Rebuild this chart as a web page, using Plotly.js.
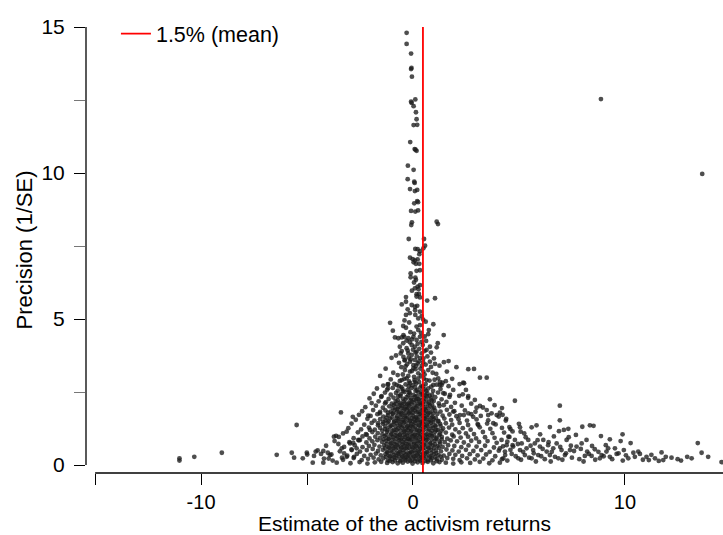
<!DOCTYPE html>
<html><head><meta charset="utf-8">
<script src="https://cdn.plot.ly/plotly-3.0.1.min.js"></script>
<style>html,body{margin:0;padding:0;background:#fff}#chart{width:723px;height:535px}</style>
</head><body><div id="chart"></div>
<script>
// ---------- data ----------
const meanEstimate = 0.47;
const meanLabel = '1.5% (mean)';
const xTitle = 'Estimate of the activism returns';
const yTitle = 'Precision (1/SE)';
const xTickVals = [-10, 0, 10];
const xTickText = ['-10', '0', '10'];
const yTickVals = [0, 5, 10, 15];
const yTickText = ['0', '5', '10', '15'];
const xRange = [-15.43, 14.63];
const yRange = [-0.274, 15];

// isolated high-precision outliers
const outlierPts = [[8.87,12.53],[13.65,9.97]];

// narrow spike of high precision estimates
const spikePts = [[-0.30,14.80],[-0.30,14.42],[-0.09,14.09],[-0.09,13.56],[-0.07,13.60],[-0.05,13.30],[0.11,12.52],[-0.09,12.44],[-0.06,12.40],[0.03,12.29],[0.14,12.08],[0.17,11.84],[0.03,11.64],[0.20,11.65],[-0.13,11.06],[0.08,10.82],[0.17,10.76],[0.12,10.80],[-0.24,10.25],[0.03,10.11],[-0.25,9.79],[0.06,9.70],[0.08,9.66],[-0.14,9.45],[0.09,9.38],[0.20,9.42],[0.20,9.04],[0.06,8.96],[0.24,9.00],[-0.09,8.70],[0.11,8.68],[0.24,8.72],[-0.05,8.31],[-0.08,8.22],[1.12,8.33],[1.18,8.25],[-0.20,7.74],[0.52,7.74],[0.57,7.51],[0.49,7.42],[0.11,7.40],[0.22,7.39],[0.33,7.32],[0.30,7.22],[-0.14,7.10],[-0.01,7.05],[0.09,7.01],[0.22,7.04],[0.03,6.94],[0.14,6.89],[0.30,6.89],[0.17,6.65],[0.33,6.67],[-0.11,6.56],[-0.11,6.43],[0.11,6.42],[0.14,6.34],[0.33,6.16],[0.22,6.11],[0.09,6.05],[-0.05,5.97],[0.17,5.85],[-0.33,5.75],[1.04,5.71],[0.26,6.02],[0.05,6.25]];

// upper funnel, precision 2.7 - 5.9
const upperPts = [[0.28,5.86],[0.17,5.77],[0.33,5.74],[0.67,5.63],[-0.53,5.50],[-0.33,5.59],[-0.06,5.48],[0.09,5.42],[0.20,5.45],[-0.25,5.33],[0.33,5.25],[-0.33,5.14],[0.11,5.14],[0.41,5.10],[0.25,5.02],[-1.08,4.87],[-0.46,4.76],[-0.33,4.70],[0.60,4.91],[0.96,4.82],[0.17,4.74],[0.33,4.79],[0.25,4.62],[0.72,4.48],[-0.85,4.37],[-0.69,4.34],[-0.53,4.37],[-0.41,4.39],[-0.22,4.34],[-0.30,4.26],[0.02,4.39],[0.17,4.28],[0.33,4.39],[-0.46,4.17],[-0.06,4.11],[0.09,4.05],[0.46,4.11],[1.17,4.17],[1.12,4.03],[0.80,4.05],[0.64,3.94],[-0.53,3.90],[-0.58,3.82],[-0.22,3.82],[-0.06,3.77],[0.17,3.88],[0.41,3.82],[-1.01,3.67],[-0.38,3.60],[-0.14,3.54],[0.09,3.60],[0.49,3.65],[0.99,3.65],[1.46,3.52],[1.68,3.56],[0.80,3.54],[1.04,3.46],[-1.29,3.30],[-0.93,3.16],[-0.38,3.25],[-0.14,3.20],[0.02,3.31],[0.25,3.14],[0.49,3.20],[0.72,3.25],[0.93,3.16],[2.61,3.28],[2.88,3.29],[3.16,2.99],[3.48,2.99],[2.41,2.80],[1.19,2.97],[1.27,2.85],[1.35,2.74],[-1.19,2.76],[-0.77,2.74],[-0.53,2.91],[-0.30,2.97],[-0.14,2.80],[0.09,2.85],[0.25,2.97],[0.64,2.91],[0.96,2.74],
[-0.12,4.55],[0.05,4.50],[0.38,4.52],[-0.45,4.45],[0.55,4.40],[-0.15,4.20],[0.40,4.22],[0.62,4.25],[-0.62,4.05],[-0.30,4.00],[0.00,3.95],[0.30,3.98],[0.55,3.90],[0.85,3.85],[-0.80,3.75],[-0.45,3.70],[-0.20,3.68],[0.18,3.72],[0.35,3.66],[0.68,3.72],[-0.66,3.50],[-0.28,3.45],[0.02,3.42],[0.22,3.48],[0.42,3.40],[0.60,3.44],[1.25,3.40],[-0.55,3.35],[-0.05,3.22],[0.12,3.28],[0.35,3.30],[0.85,3.36],[-0.72,3.08],[-0.48,3.10],[-0.22,3.05],[0.05,3.02],[0.38,3.06],[0.55,3.10],[1.10,3.12],[1.60,3.20],[-1.55,3.05],[2.05,3.35],[0.75,4.62],[-0.95,4.60],[1.45,4.45],[-0.40,4.95],[0.48,4.98],[-0.15,5.20],[0.10,5.30],[-0.18,4.88],
[-0.25,3.92],[0.12,3.85],[-0.10,3.62],[0.28,3.55],[-0.35,3.38],[0.15,3.40],[-0.05,4.30],[0.22,4.15],[-0.40,3.58],[0.48,3.52]];

// main body, read row by row (estimates per row, precisions per row)
const bodyX = [
[-1.05,-0.62,-0.41,-0.18,0.07,0.29,0.51,0.78,1.02,1.55,1.85],
[-1.40,-0.88,-0.66,-0.35,-0.02,0.15,0.40,0.60,0.86,1.12,1.68,2.20],
[-1.70,-1.22,-0.95,-0.72,-0.50,-0.26,-0.08,0.20,0.35,0.55,0.72,0.95,1.30,1.90],
[-1.85,-1.32,-1.05,-0.80,-0.58,-0.40,-0.15,0.02,0.25,0.45,0.68,0.90,1.18,1.50,2.35],
[-2.05,-1.50,-1.15,-0.92,-0.70,-0.48,-0.30,-0.10,0.10,0.28,0.50,0.66,0.85,1.05,1.35,1.72,2.60],
[-1.95,-1.62,-1.28,-1.00,-0.82,-0.62,-0.44,-0.22,-0.05,0.14,0.33,0.52,0.75,0.98,1.22,1.58,1.98,2.75],
[-2.25,-1.75,-1.42,-1.12,-0.90,-0.70,-0.52,-0.35,-0.18,0.00,0.18,0.38,0.58,0.80,1.00,1.25,1.45,1.80,2.30,3.30],
[-2.40,-1.88,-1.55,-1.30,-1.05,-0.85,-0.65,-0.45,-0.28,-0.12,0.08,0.25,0.45,0.62,0.82,1.05,1.30,1.60,1.95,2.45,2.95],
[-2.55,-2.00,-1.68,-1.40,-1.18,-0.95,-0.75,-0.55,-0.38,-0.20,-0.02,0.15,0.32,0.52,0.70,0.92,1.15,1.40,1.72,2.05,2.40,2.75,3.20,4.05],
[-2.70,-2.15,-1.82,-1.55,-1.30,-1.08,-0.88,-0.68,-0.48,-0.30,-0.14,0.05,0.22,0.40,0.58,0.78,0.98,1.20,1.48,1.80,2.15,2.55,3.00,3.55,4.40],
[-2.90,-2.30,-1.95,-1.65,-1.42,-1.20,-0.98,-0.78,-0.60,-0.42,-0.25,-0.08,0.10,0.28,0.46,0.65,0.85,1.06,1.28,1.55,1.85,2.20,2.60,3.05,3.50,3.90],
[-3.05,-2.45,-2.08,-1.80,-1.55,-1.32,-1.10,-0.90,-0.70,-0.52,-0.35,-0.18,0.00,0.18,0.36,0.55,0.75,0.95,1.18,1.42,1.70,2.00,2.35,2.72,3.15,3.65,4.20,4.60],
[-3.30,-2.60,-2.22,-1.92,-1.66,-1.44,-1.22,-1.02,-0.82,-0.62,-0.44,-0.27,-0.10,0.08,0.26,0.44,0.64,0.84,1.05,1.28,1.55,1.85,2.18,2.50,2.88,3.30,3.75,4.30],
[-3.50,-2.80,-2.38,-2.05,-1.78,-1.55,-1.34,-1.14,-0.94,-0.74,-0.55,-0.37,-0.20,-0.03,0.14,0.32,0.50,0.70,0.90,1.12,1.36,1.62,1.92,2.25,2.60,2.98,3.40,3.85,4.55],
[-3.70,-3.00,-2.55,-2.20,-1.92,-1.68,-1.46,-1.26,-1.06,-0.86,-0.66,-0.48,-0.30,-0.12,0.06,0.24,0.42,0.62,0.82,1.02,1.25,1.50,1.78,2.08,2.40,2.75,3.12,3.52,3.95,4.45],
[-4.10,-3.25,-2.75,-2.38,-2.08,-1.82,-1.58,-1.36,-1.15,-0.95,-0.76,-0.57,-0.39,-0.21,-0.04,0.14,0.32,0.52,0.72,0.93,1.15,1.40,1.66,1.95,2.28,2.62,3.00,3.40,3.82,4.25,4.70],
[-4.50,-3.45,-2.90,-2.50,-2.18,-1.90,-1.65,-1.42,-1.22,-1.02,-0.82,-0.63,-0.45,-0.27,-0.09,0.09,0.27,0.46,0.66,0.86,1.08,1.32,1.58,1.86,2.16,2.50,2.85,3.22,3.62,4.05],
[-3.85,-3.10,-2.65,-2.30,-2.00,-1.75,-1.52,-1.30,-1.10,-0.90,-0.70,-0.52,-0.34,-0.16,0.02,0.20,0.38,0.58,0.78,0.98,1.20,1.45,1.72,2.00,2.32,2.68,3.05,3.45,3.88,4.35],
[-4.20,-3.30,-2.80,-2.42,-2.12,-1.86,-1.62,-1.40,-1.18,-0.98,-0.78,-0.58,-0.40,-0.22,-0.05,0.13,0.31,0.50,0.70,0.90,1.12,1.36,1.62,1.90,2.20,2.55,2.92,3.32,3.75,4.20],
[-3.60,-2.95,-2.52,-2.15,-1.80,-1.50,-1.22,-0.96,-0.72,-0.48,-0.25,-0.02,0.22,0.45,0.70,0.96,1.25,1.55,1.90,2.28,2.70,3.15,3.60,4.10]
];
const bodyY = [
[2.93,2.88,2.95,2.86,2.91,2.84,2.96,2.89,2.92,2.87,2.95],
[2.72,2.78,2.70,2.76,2.73,2.79,2.71,2.77,2.68,2.75,2.70,2.77],
[2.62,2.58,2.64,2.55,2.61,2.57,2.63,2.56,2.65,2.59,2.62,2.54,2.60,2.57],
[2.44,2.48,2.41,2.47,2.42,2.50,2.45,2.40,2.49,2.43,2.46,2.41,2.48,2.44,2.42],
[2.28,2.33,2.26,2.31,2.35,2.27,2.32,2.29,2.34,2.26,2.30,2.36,2.28,2.32,2.25,2.33,2.30],
[2.12,2.18,2.15,2.10,2.19,2.13,2.17,2.11,2.16,2.20,2.12,2.17,2.14,2.19,2.11,2.16,2.13,2.10],
[1.98,2.03,1.96,2.01,2.05,1.97,2.02,1.99,2.04,1.95,2.01,2.06,1.98,2.03,1.96,2.02,2.05,1.99,2.03,1.97],
[1.84,1.88,1.82,1.87,1.83,1.89,1.81,1.86,1.90,1.83,1.87,1.82,1.88,1.85,1.80,1.86,1.83,1.89,1.84,1.87,1.82],
[1.72,1.68,1.74,1.66,1.71,1.75,1.67,1.73,1.69,1.76,1.70,1.65,1.74,1.68,1.72,1.66,1.75,1.69,1.73,1.67,1.71,1.74,1.68,1.66],
[1.55,1.58,1.52,1.57,1.53,1.59,1.51,1.56,1.54,1.60,1.52,1.57,1.55,1.50,1.58,1.53,1.56,1.51,1.59,1.54,1.57,1.52,1.56,1.53,1.58],
[1.42,1.38,1.44,1.36,1.41,1.45,1.37,1.43,1.39,1.46,1.35,1.40,1.44,1.37,1.42,1.38,1.45,1.36,1.41,1.43,1.38,1.44,1.37,1.40,1.42,1.39],
[1.26,1.22,1.28,1.21,1.27,1.23,1.29,1.20,1.25,1.28,1.22,1.26,1.30,1.21,1.24,1.29,1.23,1.27,1.20,1.25,1.28,1.22,1.26,1.21,1.29,1.24,1.27,1.23],
[1.08,1.12,1.06,1.13,1.09,1.05,1.14,1.07,1.11,1.04,1.12,1.08,1.15,1.06,1.10,1.13,1.05,1.09,1.14,1.07,1.11,1.04,1.12,1.08,1.06,1.13,1.09,1.11],
[0.96,0.92,0.98,0.91,0.97,0.93,0.99,0.90,0.95,0.98,0.92,0.96,0.90,0.99,0.94,0.97,0.91,0.95,0.99,0.93,0.96,0.90,0.98,0.94,0.97,0.91,0.95,0.93,0.96],
[0.82,0.78,0.84,0.77,0.81,0.85,0.79,0.83,0.76,0.80,0.84,0.78,0.82,0.86,0.77,0.81,0.79,0.85,0.76,0.83,0.80,0.78,0.84,0.81,0.77,0.83,0.79,0.82,0.76,0.80],
[0.66,0.62,0.68,0.61,0.65,0.69,0.63,0.67,0.60,0.64,0.68,0.62,0.66,0.70,0.61,0.65,0.63,0.69,0.60,0.67,0.64,0.62,0.68,0.65,0.61,0.67,0.63,0.66,0.60,0.64,0.68],
[0.50,0.47,0.53,0.46,0.51,0.55,0.48,0.52,0.45,0.49,0.54,0.47,0.51,0.56,0.46,0.50,0.48,0.54,0.45,0.52,0.49,0.47,0.53,0.50,0.46,0.52,0.48,0.51,0.45,0.49],
[0.36,0.32,0.38,0.31,0.35,0.39,0.33,0.37,0.30,0.34,0.38,0.32,0.36,0.40,0.31,0.35,0.33,0.39,0.30,0.37,0.34,0.32,0.38,0.35,0.31,0.37,0.33,0.36,0.30,0.34],
[0.22,0.18,0.24,0.17,0.21,0.25,0.19,0.23,0.16,0.20,0.24,0.18,0.22,0.26,0.17,0.21,0.19,0.25,0.16,0.23,0.20,0.18,0.24,0.21,0.17,0.23,0.19,0.22,0.16,0.20],
[0.08,0.06,0.10,0.05,0.09,0.11,0.07,0.10,0.06,0.08,0.12,0.05,0.09,0.07,0.11,0.06,0.10,0.08,0.05,0.09,0.07,0.11,0.06,0.08]
];

// dense core around zero, second layer
const coreX = [
[-0.55,-0.20,0.10,0.48],
[-0.48,-0.18,0.12,0.40,0.62],
[-0.60,-0.22,0.18,0.38,0.58,0.78],
[-0.72,-0.35,-0.12,0.05,0.24,0.44,0.64,0.88],
[-0.80,-0.60,-0.42,-0.26,-0.08,0.10,0.28,0.48,0.70,0.90],
[-0.95,-0.75,-0.55,-0.38,-0.20,-0.02,0.16,0.35,0.54,0.72,0.92],
[-1.18,-0.96,-0.76,-0.56,-0.36,-0.18,0.00,0.18,0.36,0.55,0.74,0.95],
[-1.25,-1.00,-0.78,-0.58,-0.40,-0.22,-0.05,0.14,0.32,0.50,0.68,0.88,1.08],
[-1.40,-1.15,-0.90,-0.70,-0.52,-0.34,-0.16,0.02,0.20,0.38,0.56,0.75,0.96,1.18],
[-1.30,-1.05,-0.82,-0.62,-0.44,-0.26,-0.08,0.10,0.28,0.46,0.66,0.86,1.06,1.30],
[-1.45,-1.20,-0.98,-0.78,-0.60,-0.42,-0.24,-0.06,0.12,0.30,0.50,0.70,0.90,1.10,1.35],
[-1.25,-1.04,-0.84,-0.64,-0.46,-0.28,-0.11,0.06,0.24,0.42,0.60,0.80,1.00,1.24],
[-1.38,-1.16,-0.96,-0.76,-0.58,-0.40,-0.22,-0.05,0.12,0.30,0.48,0.68,0.88,1.10,1.35],
[-1.25,-1.05,-0.86,-0.66,-0.48,-0.30,-0.12,0.05,0.23,0.42,0.62,0.82,1.04,1.28],
[-1.32,-1.12,-0.92,-0.72,-0.54,-0.36,-0.18,0.00,0.18,0.36,0.56,0.76,0.98,1.22],
[-1.20,-1.00,-0.80,-0.61,-0.43,-0.25,-0.07,0.11,0.29,0.48,0.68,0.88,1.10],
[-1.28,-1.08,-0.88,-0.68,-0.49,-0.31,-0.13,0.05,0.24,0.42,0.62,0.83,1.05,1.30],
[-1.10,-0.85,-0.60,-0.36,-0.12,0.10,0.34,0.58,0.84,1.12]
];
const coreY = [
[2.67,2.70,2.66,2.69],
[2.53,2.50,2.54,2.51,2.53],
[2.37,2.39,2.36,2.40,2.38,2.37],
[2.22,2.24,2.21,2.23,2.25,2.22,2.24,2.21],
[2.09,2.07,2.10,2.08,2.09,2.07,2.10,2.08,2.09,2.07],
[1.94,1.92,1.95,1.93,1.94,1.92,1.95,1.93,1.92,1.94,1.93],
[1.79,1.77,1.80,1.78,1.77,1.79,1.78,1.80,1.77,1.79,1.78,1.77],
[1.62,1.63,1.61,1.64,1.62,1.63,1.61,1.62,1.64,1.61,1.63,1.62,1.61],
[1.48,1.49,1.47,1.50,1.48,1.47,1.49,1.48,1.50,1.47,1.49,1.48,1.47,1.49],
[1.33,1.34,1.32,1.35,1.33,1.32,1.34,1.33,1.35,1.32,1.34,1.33,1.32,1.34],
[1.18,1.19,1.17,1.20,1.18,1.17,1.19,1.18,1.20,1.17,1.19,1.18,1.17,1.19,1.18],
[1.02,1.03,1.01,1.04,1.02,1.01,1.03,1.02,1.04,1.01,1.03,1.02,1.01,1.03],
[0.88,0.89,0.87,0.90,0.88,0.87,0.89,0.88,0.90,0.87,0.89,0.88,0.87,0.89,0.88],
[0.72,0.73,0.71,0.74,0.72,0.71,0.73,0.72,0.74,0.71,0.73,0.72,0.71,0.73],
[0.58,0.59,0.57,0.60,0.58,0.57,0.59,0.58,0.60,0.57,0.59,0.58,0.57,0.59],
[0.42,0.43,0.41,0.44,0.42,0.41,0.43,0.42,0.44,0.41,0.43,0.42,0.41],
[0.28,0.29,0.27,0.30,0.28,0.27,0.29,0.28,0.30,0.27,0.29,0.28,0.27,0.29],
[0.14,0.15,0.13,0.16,0.14,0.13,0.15,0.14,0.16,0.13]
];

// left tail and left flank
const leftPts = [[-11.02,0.23],[-11.02,0.15],[-10.32,0.28],[-9.02,0.42],[-6.43,0.35],[-5.72,0.42],[-5.61,0.25],[-5.49,1.37],[-5.20,0.23],[-5.01,0.42],[-4.99,0.36],[-4.73,0.08],[-4.67,0.31],[-4.59,0.46],[-4.34,0.38],[-4.23,0.08],[-4.23,0.48],[-4.02,0.42],[-3.92,0.34],[-3.79,0.15],[-3.73,0.97],[-3.63,1.00],[-3.40,1.80],[-2.84,1.65],[-3.13,1.14],[-3.52,0.72],[-3.36,0.57],[-3.25,0.40],[-3.13,0.28],[-2.97,0.74],[-2.82,0.76],[-2.89,0.51],[-2.66,0.57],[-2.78,0.28],[-2.58,0.86],[-3.98,0.22],[-3.35,0.25],
[-2.11,1.69],[-1.17,2.77],[-1.17,2.63],[-1.48,2.36],[-1.32,2.11],[-1.56,1.77],[-1.64,1.43],[-2.03,1.20],[-2.18,1.03],[-2.50,0.86]];

// right flank and right tail
const rightPts = [[2.37,2.82],[2.50,2.57],[2.18,2.37],[2.61,2.36],[2.92,2.23],[3.63,2.25],[3.16,2.02],[3.00,1.96],[3.48,1.88],[3.71,1.77],[3.95,1.71],[3.55,1.71],[2.84,1.65],[2.61,1.77],[2.22,1.71],[1.90,1.83],[1.75,2.40],[1.43,2.46],[1.27,2.74],[1.40,2.82],[3.08,1.37],[3.79,1.43],
[4.81,2.20],[6.93,2.03],[6.93,1.53],[4.10,1.79],[4.23,1.72],[5.00,1.41],[5.05,1.29],[5.08,1.14],[5.60,1.29],[5.83,1.36],[6.46,1.30],[6.89,1.16],[7.12,1.20],[7.33,1.24],[7.99,1.31],[8.35,1.36],[8.52,1.34],[7.69,1.03],[8.87,0.99],[9.29,0.88],[9.89,1.05],[10.27,0.75],[9.80,0.82],[13.44,0.75],[13.62,0.42],[13.93,0.28],[14.56,0.10],[13.15,0.23],[12.94,0.28],[12.49,0.20],[11.93,0.28],[11.81,0.17],[11.73,0.43],[11.42,0.23],[11.02,0.28],[11.13,0.17],[10.63,0.46],[10.71,0.38],[10.47,0.28],[10.16,0.23],[9.95,0.51],[9.53,0.57],[9.61,0.38],[9.21,0.57],[9.13,0.46],[9.29,0.28],[8.90,0.34],[8.82,0.23],[8.58,0.54],[8.43,0.31],[8.22,0.46],[8.11,0.31],[8.19,0.86],[7.96,0.74],[7.72,0.63],[7.45,0.66],[7.41,0.51],[7.25,0.86],[7.17,0.34],[7.01,0.51],[6.86,0.23],[6.78,0.74],[6.62,0.57],[6.46,0.34],[6.38,0.68],[6.31,0.46],[6.15,0.86],[5.99,0.63],[5.91,0.34],[5.75,0.74],[5.67,0.51],[5.60,0.23],[5.44,0.86],[5.36,0.57],[5.28,0.34],[5.13,0.74],[5.05,0.51],[4.97,0.23],[4.81,0.86],[4.73,0.63],[4.66,0.38],[4.50,0.97],[4.42,0.68],[4.34,0.46],[4.26,0.23],[4.18,0.86],[4.10,0.57],
[4.45,0.15],[4.60,0.52],[4.85,0.30],[4.95,0.72],[5.10,0.18],[5.20,0.45],[5.32,0.95],[5.48,0.25],[5.55,0.66],[5.70,0.40],[5.80,0.12],[5.88,0.85],[6.05,0.30],[6.12,0.55],[6.22,0.20],[6.40,0.78],[6.50,0.12],[6.55,0.45],[6.70,0.28],[6.95,0.62],[7.05,0.18],[7.22,0.40],[7.35,0.95],[7.50,0.25],[7.60,0.48],[7.85,0.20],[7.92,0.55],[8.05,0.12],[8.30,0.38],[8.45,0.65],[8.60,0.18],[8.75,0.45],[9.00,0.30],[9.10,0.68],[9.40,0.20],[9.70,0.40],[9.90,0.15],[10.05,0.33],[10.40,0.42],[10.85,0.18],[11.25,0.35],[11.60,0.14],[12.20,0.25],[12.65,0.15],[4.70,1.15],[4.55,1.30],[5.25,1.08],[6.00,1.05],[6.65,0.98],[4.38,1.52],[3.85,2.05],[4.20,1.95]];

// ---------- assemble ----------
function zipRows(xs, ys) {
  const out = [];
  for (let r = 0; r < Math.min(xs.length, ys.length); r++) {
    const n = Math.min(xs[r].length, ys[r].length);
    for (let i = 0; i < n; i++) out.push([xs[r][i], ys[r][i]]);
  }
  return out;
}
const allPts = [].concat(outlierPts, spikePts, upperPts, zipRows(bodyX, bodyY), zipRows(coreX, coreY), leftPts, rightPts);
const px = allPts.map(p => p[0]);
const py = allPts.map(p => p[1]);

const FONT = 'Liberation Sans, Arial, Helvetica, sans-serif';

const traces = [
  {
    type: 'scatter', mode: 'markers', x: px, y: py, showlegend: false, hoverinfo: 'none',
    marker: { size: 4.8, color: 'rgba(28,28,28,0.78)', line: { width: 0 } },
    cliponaxis: false
  },
  {
    type: 'scatter', mode: 'lines', name: meanLabel,
    x: [meanEstimate, meanEstimate], y: [yRange[0], yRange[1]],
    line: { color: '#ff0000', width: 1.8 }, hoverinfo: 'none'
  }
];

const layout = {
  width: 723, height: 535,
  margin: { l: 86, r: 0, t: 27, b: 62, pad: 0 },
  paper_bgcolor: '#fff', plot_bgcolor: '#fff',
  font: { family: FONT, size: 21, color: '#000' },
  showlegend: true,
  legend: {
    x: 0.047, y: 1.031, xanchor: 'left', yanchor: 'top',
    bgcolor: 'rgba(0,0,0,0)', borderwidth: 0, itemwidth: 30,
    font: { family: FONT, size: 21.5, color: '#000' }
  },
  xaxis: {
    range: xRange, showgrid: false, zeroline: false, showline: false,
    tickvals: xTickVals, ticktext: xTickText,
    ticks: 'outside', ticklen: 11, tickwidth: 1, tickcolor: '#000',
    minor: { dtick: 5, tick0: 0, ticks: 'outside', ticklen: 11, tickwidth: 1, tickcolor: '#000' },
    tickfont: { family: FONT, size: 20, color: '#000' },
    ticklabelstandoff: 0,
    title: { text: xTitle, font: { family: FONT, size: 21, color: '#000' }, standoff: 4 }
  },
  yaxis: {
    range: yRange, showgrid: false, zeroline: false, showline: false,
    tickvals: yTickVals, ticktext: yTickText,
    ticks: 'outside', ticklen: 11, tickwidth: 1, tickcolor: '#000',
    minor: { dtick: 2.5, tick0: 0, ticks: 'outside', ticklen: 11, tickwidth: 1, tickcolor: '#777' },
    tickfont: { family: FONT, size: 21, color: '#000' },
    ticklabelstandoff: 5,
    title: { text: yTitle, font: { family: FONT, size: 22, color: '#000' }, standoff: 2 }
  },
  shapes: [
    { type: 'line', xref: 'paper', yref: 'y', x0: 0, x1: 0, y0: 0, y1: 15, line: { color: '#000', width: 1.3 } },
    { type: 'line', xref: 'x', yref: 'paper', x0: -15, x1: xRange[1], y0: 0, y1: 0, line: { color: '#000', width: 1.3 } }
  ]
};

Plotly.newPlot('chart', traces, layout, { displayModeBar: false, staticPlot: true });
</script>
</body></html>
